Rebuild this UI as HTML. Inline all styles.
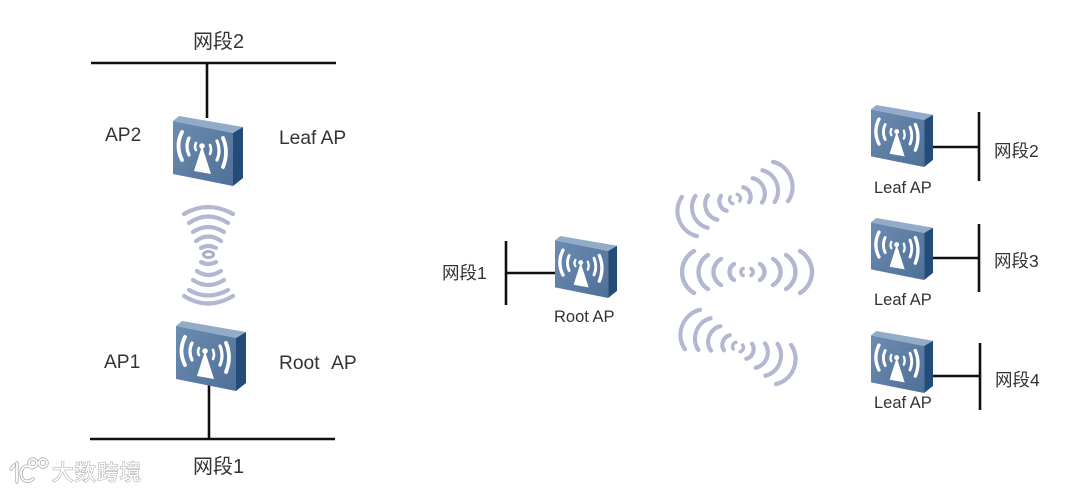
<!DOCTYPE html>
<html><head><meta charset="utf-8"><style>
html,body{margin:0;padding:0;background:#fff;width:1080px;height:492px;overflow:hidden}
svg{display:block;filter:blur(.35px)}
text{font-family:"Liberation Sans","Noto Sans CJK SC",sans-serif;fill:#333}
.l{font-size:19.200px}.c{font-size:20px}.s{font-size:16.500px}.m{font-size:17.500px}
.wm{font-size:21.500px;fill:#fff;stroke:#b4b4b4;stroke-width:1.200px;paint-order:stroke;letter-spacing:1px}
</style></head><body>
<svg width="1080" height="492" viewBox="0 0 1080 492" xmlns="http://www.w3.org/2000/svg">
<defs>
<linearGradient id="g" x1="0" y1="0" x2="1" y2="1"><stop offset="0" stop-color="#6c8cb0"/><stop offset="1" stop-color="#4f7098"/></linearGradient>
<g id="ap">
<polygon points="0,5 6,0 70,11 60,17" fill="#92abc8"/>
<polygon points="0,5 60,17 60,70 0,58" fill="url(#g)"/>
<polygon points="60,17 70,11 70,62 60,70" fill="#244c79"/>
<polygon points="29,30 21,55 38,58" fill="#fff"/>
<g fill="none" stroke="#fff" stroke-linecap="round">
<path d="M9 16Q2 30 9 44" stroke-width="3.800"/>
<path d="M16 22Q12 30 16 39" stroke-width="3.200"/>
<path d="M23 27Q21 31 23 34" stroke-width="2.600"/>
<path d="M37 29Q39 34 37 38" stroke-width="2.600"/>
<path d="M44 25Q48 35 44 44" stroke-width="3.200"/>
<path d="M50 22Q56 36 50 51" stroke-width="3.800"/>
</g>
<circle cx="29" cy="30" r="2.800" fill="#fff"/>
</g>
<g id="hw" fill="none" stroke="#b3b7d1" stroke-width="4.400" stroke-linecap="round">
<path d="M-4 -3.500A4 4 0 0 0 -4 3.500M4 -3.500A4 4 0 0 1 4 3.500" stroke-width="3.600"/>
<path d="M-13 -8A9.400 9.400 0 0 0 -13 8M13 -8A9.400 9.400 0 0 1 13 8"/>
<path d="M-26 -13A15 15 0 0 0 -26 13M26 -13A15 15 0 0 1 26 13"/>
<path d="M-39 -17A20 20 0 0 0 -39 17M39 -17A20 20 0 0 1 39 17"/>
<path d="M-53 -21A24.400 24.400 0 0 0 -53 21M53 -21A24.400 24.400 0 0 1 53 21"/>
</g>
</defs>
<rect width="1080" height="492" fill="#fff"/>

<g stroke="#111" stroke-width="2.600" fill="none">
<path d="M91 63H336M207 63V118"/>
<path d="M90 439H335M209 385V439"/>
<path d="M506 241V305M506 273H558"/>
<path d="M979 112V181M930 147H979"/>
<path d="M979 224V292M930 258H979"/>
<path d="M980 343V410M930 376H980"/>
</g>

<use href="#ap" transform="translate(173,116)"/>
<use href="#ap" transform="translate(176,321)"/>
<use href="#ap" transform="translate(555,236) scale(.886)"/>
<use href="#ap" transform="translate(871,105) scale(.886)"/>
<use href="#ap" transform="translate(871,218) scale(.886)"/>
<use href="#ap" transform="translate(871,331) scale(.886)"/>

<g fill="none" stroke="#b3b7d1" stroke-width="4.200" stroke-linecap="round">
<path d="M184 214Q208 200 233 214"/>
<path d="M189 223Q208 210 228 223"/>
<path d="M193 232Q208 222 224 232"/>
<path d="M196 241Q208 232 221 241"/>
<path d="M201 248Q208 244 216 248"/>
<path d="M201 262Q208 266 216 262"/>
<path d="M197 271Q208 279 221 271"/>
<path d="M193 280Q208 290 224 280"/>
<path d="M189 290Q208 301 228 290"/>
<path d="M184 296Q208 311 233 296"/>
</g>
<ellipse cx="208.500" cy="254.500" rx="5" ry="3" fill="none" stroke="#a9aecb" stroke-width="3"/>

<use href="#hw" transform="translate(735,199) rotate(-21) scale(.92,1)"/>
<use href="#hw" transform="translate(747,272)"/>
<use href="#hw" transform="translate(738,347) rotate(21) scale(.92,1)"/>

<text class="c" x="193" y="48">网段2</text>
<text class="l" x="105" y="141">AP2</text>
<text class="l" x="279" y="144">Leaf AP</text>
<text class="l" x="104" y="368">AP1</text>
<text class="l" x="279" y="369" xml:space="preserve" word-spacing="1">Root  AP</text>
<text class="c" x="193" y="473">网段1</text>
<text class="m" x="442" y="279">网段1</text>
<text class="s" x="554" y="322">Root AP</text>
<text class="s" x="874" y="193">Leaf AP</text>
<text class="s" x="874" y="305">Leaf AP</text>
<text class="s" x="874" y="408">Leaf AP</text>
<text class="m" x="994" y="157">网段2</text>
<text class="m" x="994" y="267">网段3</text>
<text class="m" x="995" y="386">网段4</text>

<g fill="none" stroke="#b0b0b0" stroke-width="3.400" stroke-linecap="round">
<path d="M14 465L11 469M17 463V482M32 468C23 462 19 472 22 478C24 482 29 482 33 479"/>
<circle cx="33" cy="463" r="4"/><circle cx="43" cy="463" r="4"/>
</g>
<g fill="none" stroke="#fff" stroke-width="1.800" stroke-linecap="round">
<path d="M14 465L11 469M17 463V482M32 468C23 462 19 472 22 478C24 482 29 482 33 479"/>
<circle cx="33" cy="463" r="4"/><circle cx="43" cy="463" r="4"/>
</g>
<text class="wm" x="52" y="480">大数跨境</text>
</svg>
</body></html>
